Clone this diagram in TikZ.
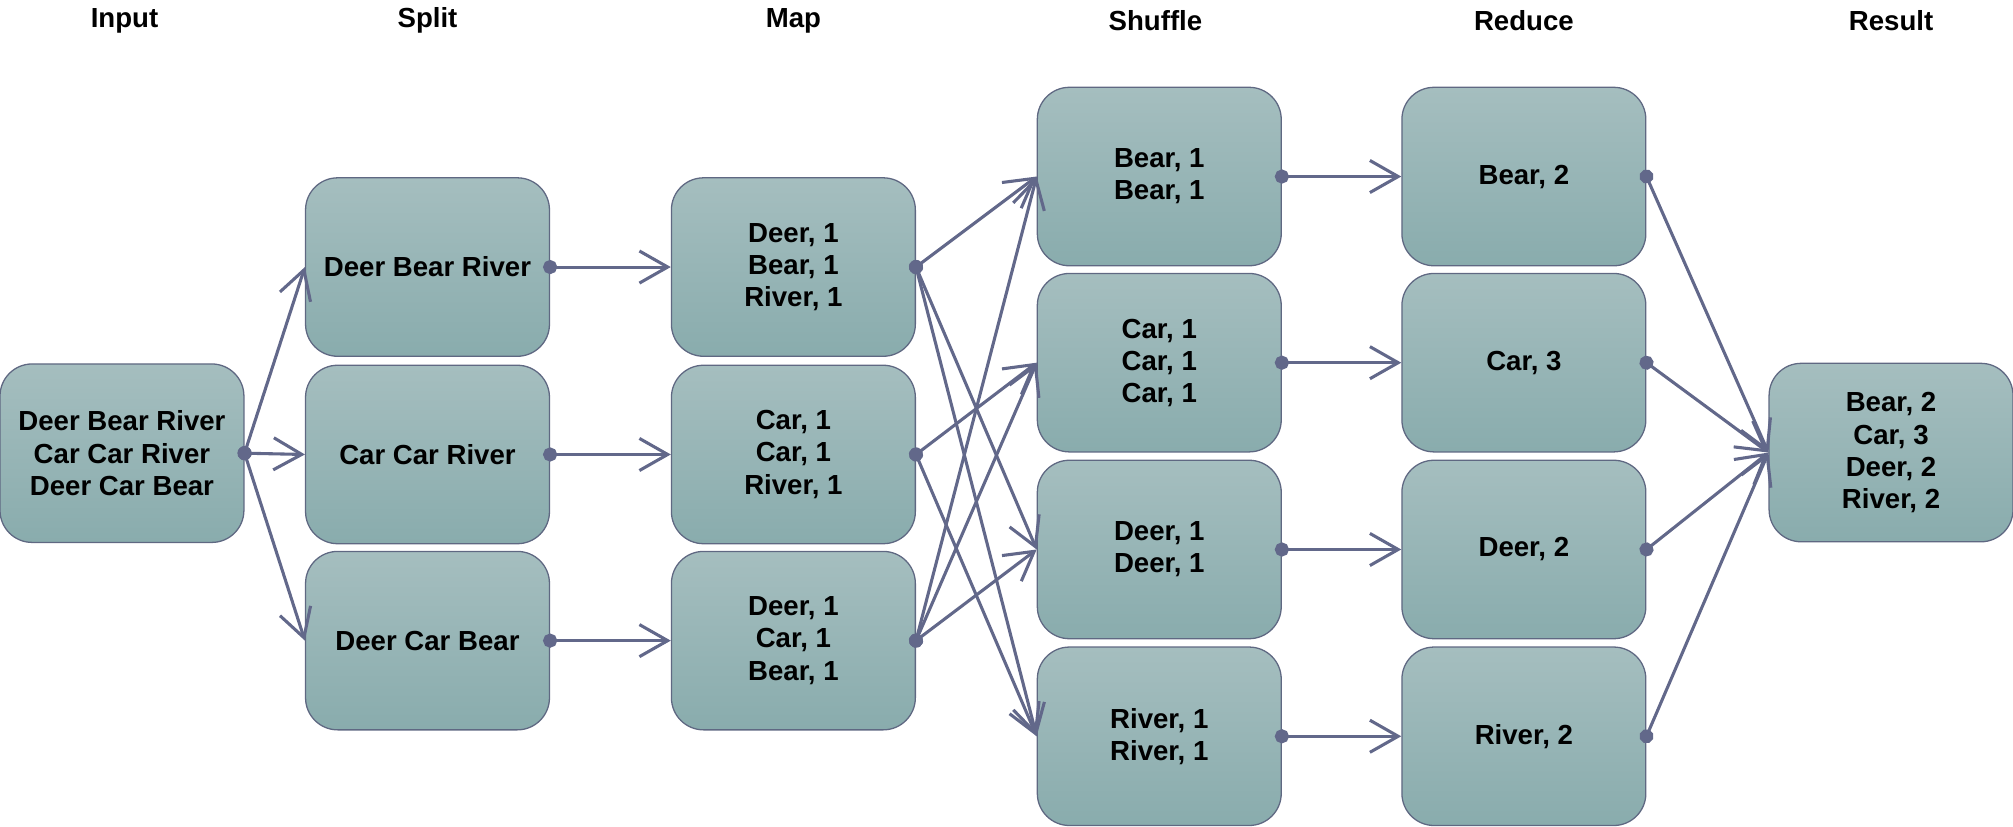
\documentclass[tikz,border=0pt]{standalone}
\usepackage{fontspec}
\setmainfont{Liberation Sans}
\usetikzlibrary{arrows.meta, positioning}
\definecolor{boxtop}{RGB}{165,190,191}
\definecolor{boxbottom}{RGB}{137,172,173}
\definecolor{boxline}{RGB}{95,104,130}
\definecolor{flowline}{RGB}{98,104,138}
\tikzset{
stage/.style={rounded corners=12.5pt, draw=boxline, line width=0.5pt,
  top color=boxtop, bottom color=boxbottom, % soft vertical shading
  minimum width=95pt, minimum height=69.5pt, inner sep=0pt,
  align=center, font=\fontsize{10.75}{12.5}\selectfont\bfseries},
header/.style={font=\fontsize{10.75}{12.5}\selectfont\bfseries},
flow/.style={draw=flowline, line width=1.2pt, shorten <=-2.75pt, % dot sits on the box edge
  {Circle[length=5.5pt]}-{Straight Barb[length=11pt,width=12.5pt]}},
}
\begin{document}
\begin{tikzpicture}[x=0.5pt, y=-0.5pt]
  \useasboundingbox (0,0) rectangle (1568,644);

  % column titles
  \node[header] at (97,16) {Input};
  \node[header] at (333,16) {Split};
  \node[header] at (618,16) {Map};
  \node[header] at (900,16) {Shuffle};
  \node[header] at (1187,16) {Reduce};
  \node[header] at (1473,16) {Result};

  % boxes
  \node[stage] (in) at (95,353) {Deer Bear River\\Car Car River\\Deer Car Bear};

  \node[stage] (s1) at (333,208) {Deer Bear River};
  \node[stage] (s2) at (333,354) {Car Car River};
  \node[stage] (s3) at (333,499) {Deer Car Bear};

  \node[stage] (m1) at (618,208) {Deer, 1\\Bear, 1\\River, 1};
  \node[stage] (m2) at (618,354) {Car, 1\\Car, 1\\River, 1};
  \node[stage] (m3) at (618,499) {Deer, 1\\Car, 1\\Bear, 1};

  \node[stage] (sh1) at (903,137.5) {Bear, 1\\Bear, 1};
  \node[stage] (sh2) at (903,282.5) {Car, 1\\Car, 1\\Car, 1};
  \node[stage] (sh3) at (903,428) {Deer, 1\\Deer, 1};
  \node[stage] (sh4) at (903,573.5) {River, 1\\River, 1};

  \node[stage] (r1) at (1187,137.5) {Bear, 2};
  \node[stage] (r2) at (1187,282.5) {Car, 3};
  \node[stage] (r3) at (1187,428) {Deer, 2};
  \node[stage] (r4) at (1187,573.5) {River, 2};

  \node[stage] (out) at (1473,352.5) {Bear, 2\\Car, 3\\Deer, 2\\River, 2};

  % connectors
  \foreach \s in {s1,s2,s3}
    \draw[flow] (in.east) -- (\s.west);

  \draw[flow] (s1.east) -- (m1.west);
  \draw[flow] (s2.east) -- (m2.west);
  \draw[flow] (s3.east) -- (m3.west);

  \foreach \t in {sh1,sh3,sh4}
    \draw[flow] (m1.east) -- (\t.west);
  \foreach \t in {sh2,sh4}
    \draw[flow] (m2.east) -- (\t.west);
  \foreach \t in {sh1,sh2,sh3}
    \draw[flow] (m3.east) -- (\t.west);

  \foreach \i in {1,...,4}{
    \draw[flow] (sh\i.east) -- (r\i.west);
    \draw[flow] (r\i.east) -- (out.west);
  }
\end{tikzpicture}
\end{document}
